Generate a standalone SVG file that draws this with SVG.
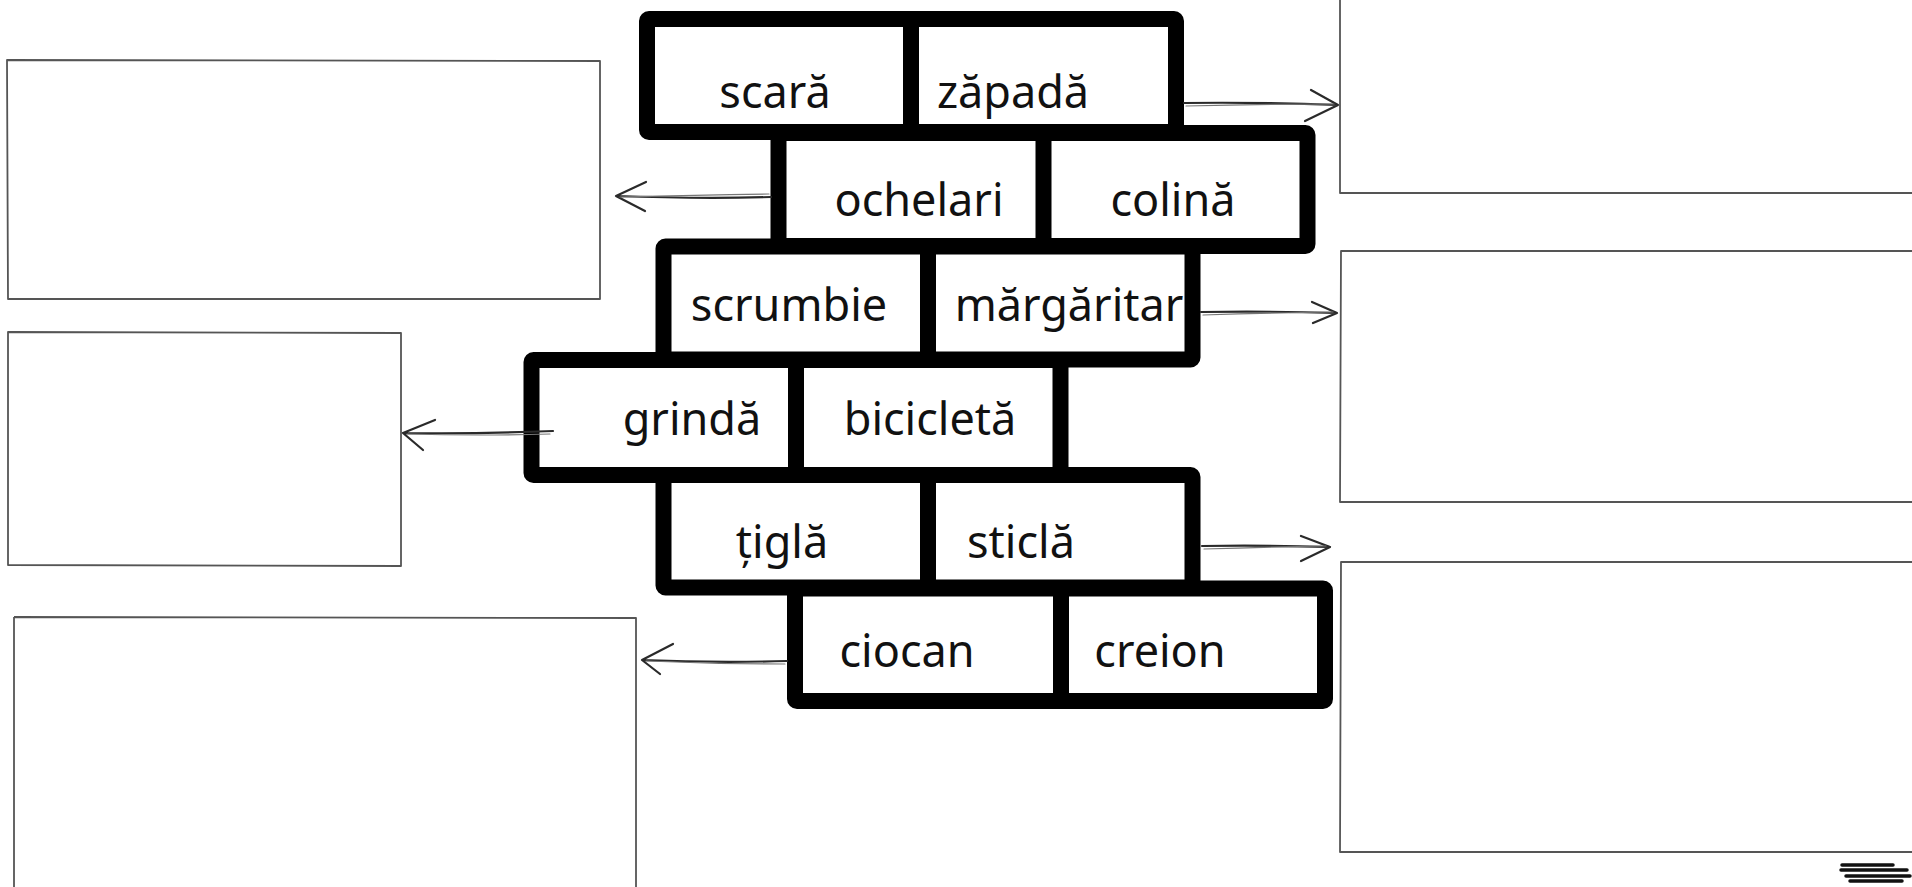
<svg xmlns="http://www.w3.org/2000/svg" width="1912" height="887" viewBox="0 0 1912 887">
<style>
.frame{fill:#fff;stroke:#000;stroke-width:16;stroke-linejoin:round}
.divl{stroke:#000;stroke-width:16}
.lbl{font-family:"Noto Sans","DejaVu Sans",sans-serif;font-size:45px;fill:#111;text-anchor:middle}
.box{fill:none;stroke:#555;stroke-width:1.8;stroke-linejoin:round}
.conn{fill:none;stroke:#2a2a2a;stroke-width:2.2;stroke-linecap:round;stroke-linejoin:round}
.conn2{fill:none;stroke:#777;stroke-width:1.2;stroke-linecap:round}
.mark{stroke:#111;stroke-width:3.5;stroke-linecap:round}
</style>
<rect width="1912" height="887" fill="#fff"/>

<!-- empty answer boxes -->
<g id="box-left-1"><path class="box" d="M7,60 L600,61 L600,299 L8,299 Z"/></g>
<g id="box-left-2"><path class="box" d="M8,332 L401,333 L401,566 L8,565 Z"/></g>
<g id="box-left-3"><path class="box" d="M14,617 L636,618 L636,890 M14,617 L14,890"/></g>
<g id="box-right-1"><path class="box" d="M1340,-5 L1340,193 L1915,193"/></g>
<g id="box-right-2"><path class="box" d="M1915,251 L1341,251 L1340,502 L1915,502"/></g>
<g id="box-right-3"><path class="box" d="M1915,562 L1341,562 L1340,852 L1915,852"/></g>

<!-- brick rows -->
<g id="row1">
  <rect class="frame" x="647" y="19" width="529" height="113" rx="2"/>
  <line class="divl" x1="911" y1="19" x2="911" y2="132"/>
  <g id="cell-scara"><text class="lbl" x="775" y="108">scară</text></g>
  <g id="cell-zapada"><text class="lbl" x="1013" y="108">zăpadă</text></g>
</g>
<g id="row2">
  <rect class="frame" x="778.5" y="133" width="529" height="113" rx="2"/>
  <line class="divl" x1="1043.5" y1="133" x2="1043.5" y2="246"/>
  <g id="cell-ochelari"><text class="lbl" x="919" y="216">ochelari</text></g>
  <g id="cell-colina"><text class="lbl" x="1173" y="216">colină</text></g>
</g>
<g id="row3">
  <rect class="frame" x="663.5" y="246.5" width="529" height="113" rx="2"/>
  <line class="divl" x1="928" y1="246.5" x2="928" y2="359.5"/>
  <g id="cell-scrumbie"><text class="lbl" x="789" y="321">scrumbie</text></g>
  <g id="cell-margaritar"><text class="lbl" x="1069" y="321">mărgăritar</text></g>
</g>
<g id="row4">
  <rect class="frame" x="531.5" y="360" width="529" height="115" rx="2"/>
  <line class="divl" x1="796" y1="360" x2="796" y2="475"/>
  <g id="cell-grinda"><text class="lbl" x="692" y="435">grindă</text></g>
  <g id="cell-bicicleta"><text class="lbl" x="930" y="435">bicicletă</text></g>
</g>
<g id="row5">
  <rect class="frame" x="663.5" y="475" width="529" height="112.5" rx="2"/>
  <line class="divl" x1="928" y1="475" x2="928" y2="587.5"/>
  <g id="cell-tigla"><text class="lbl" x="782" y="558">țiglă</text></g>
  <g id="cell-sticla"><text class="lbl" x="1021" y="558">sticlă</text></g>
</g>
<g id="row6">
  <rect class="frame" x="795" y="588.5" width="530" height="112.5" rx="2"/>
  <line class="divl" x1="1061" y1="588.5" x2="1061" y2="701"/>
  <g id="cell-ciocan"><text class="lbl" x="907" y="667">ciocan</text></g>
  <g id="cell-creion"><text class="lbl" x="1160" y="667">creion</text></g>
</g>

<!-- connectors -->
<g id="connectors">
  <path class="conn" d="M1184,103 Q1260,102 1338,105 M1311,90 L1338,105 L1305,121"/>
  <path class="conn2" d="M1186,106 Q1260,104 1334,104"/>
  <path class="conn" d="M771,197 Q700,199 616,196 M646,182 L616,196 L645,211"/>
  <path class="conn2" d="M769,194 Q700,195 620,197"/>
  <path class="conn" d="M1201,312 Q1270,311 1337,313 M1312,302 L1337,313 L1313,323"/>
  <path class="conn2" d="M1203,315 Q1270,313 1333,312"/>
  <path class="conn" d="M553,431 Q480,434 403,433 M435,420 L403,433 L423,450"/>
  <path class="conn2" d="M550,434 Q480,436 407,434"/>
  <path class="conn" d="M1202,546 Q1265,545 1330,547 M1301,536 L1330,547 L1301,561"/>
  <path class="conn2" d="M1204,549 Q1265,547 1326,546"/>
  <path class="conn" d="M787,661 Q715,663 642,660 M673,644 L642,660 L660,674"/>
  <path class="conn2" d="M785,664 Q715,664 646,661"/>
</g>

<!-- small mark bottom right -->
<g id="corner-mark">
  <line class="mark" x1="1842" y1="865" x2="1893" y2="865"/>
  <line class="mark" x1="1841" y1="870" x2="1907" y2="870"/>
  <line class="mark" x1="1846" y1="876" x2="1910" y2="876"/>
  <line class="mark" x1="1850" y1="881" x2="1902" y2="881"/>
</g>
</svg>
